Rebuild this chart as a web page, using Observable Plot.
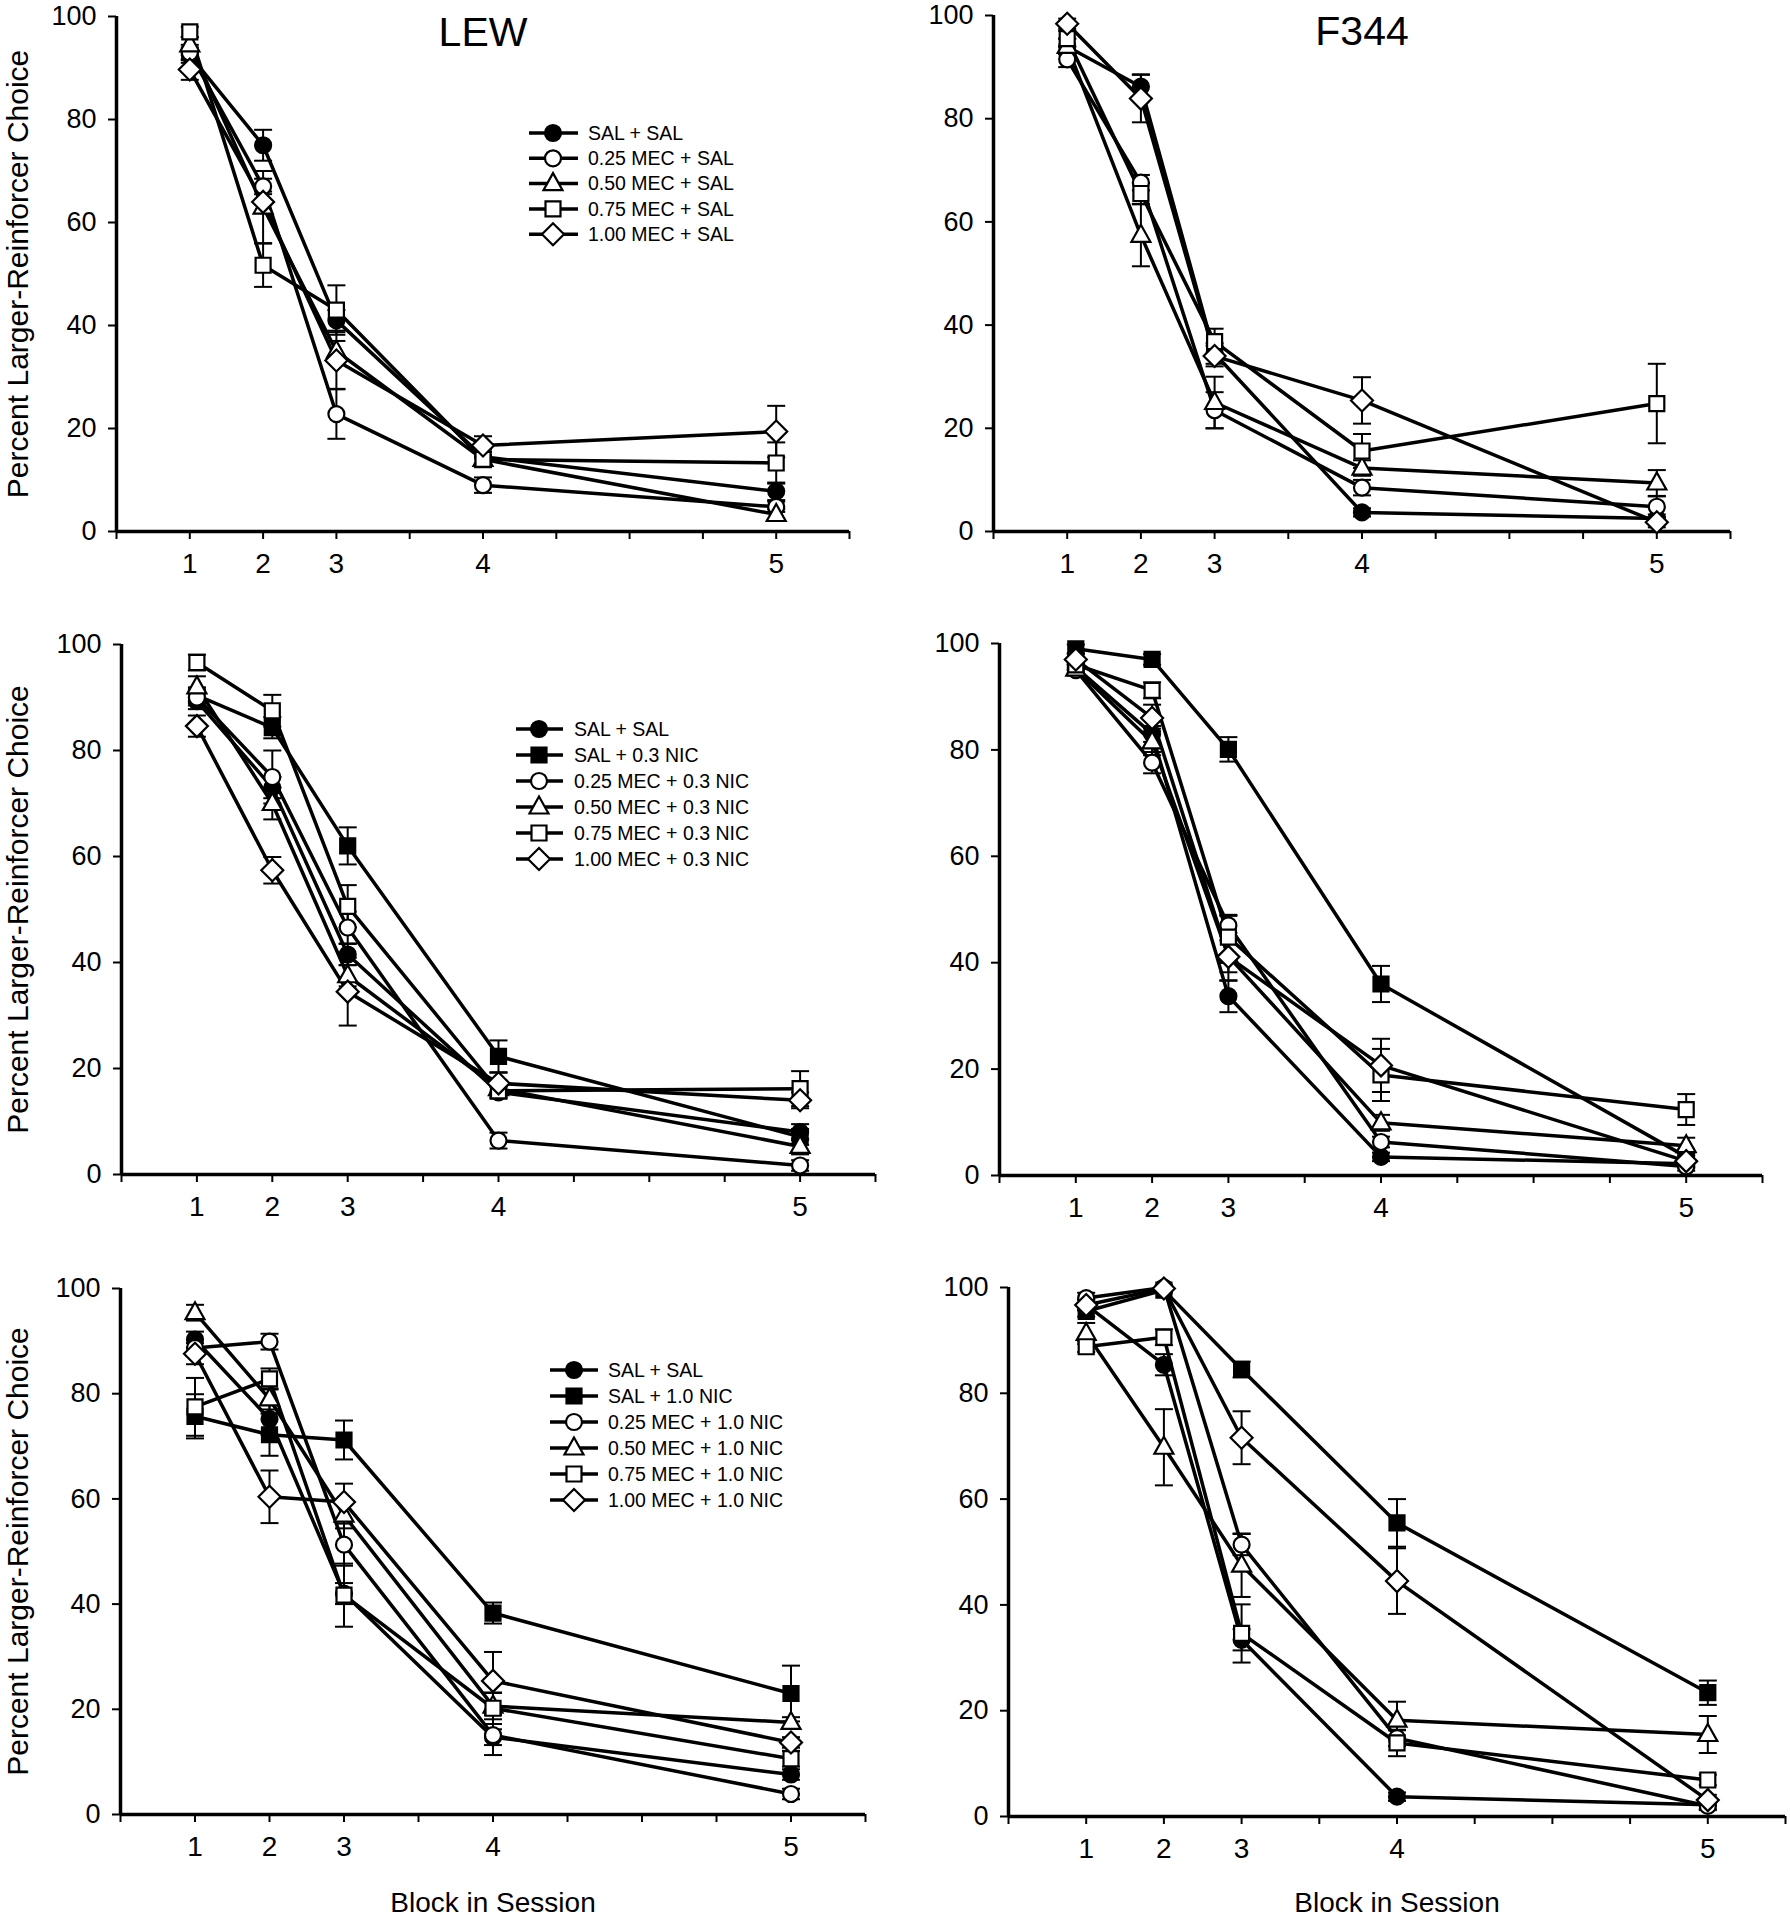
<!DOCTYPE html>
<html>
<head>
<meta charset="utf-8">
<script src="https://cdn.jsdelivr.net/npm/d3@7"></script>
<script src="https://cdn.jsdelivr.net/npm/@observablehq/plot@0.6"></script>
<style>
html, body { margin: 0; padding: 0; background: #fff; }
#fig { position: relative; width: 1790px; height: 1920px; background: #fff; overflow: hidden;
       font-family: "Liberation Sans", Arial, Helvetica, sans-serif; }
#fig > div { position: absolute; }
#fig svg { display: block; max-width: none; }
</style>
</head>
<body>
<div id="fig"></div>
<script>
// ---------------- data ----------------
const blockPos = [1, 2, 3, 5, 9];          // position of each block on the session axis
const blockLabels = ["1", "2", "3", "4", "5"];
const axisTicksX = [0, 1, 2, 3, 4, 5, 6, 7, 8, 9, 10];
const axisTicksY = [0, 20, 40, 60, 80, 100];

const yLabel = "Percent Larger-Reinforcer Choice";
const xLabel = "Block in Session";

const seriesSal = ["SAL + SAL", "0.25 MEC + SAL", "0.50 MEC + SAL", "0.75 MEC + SAL", "1.00 MEC + SAL"];
const seriesNic03 = ["SAL + SAL", "SAL + 0.3 NIC", "0.25 MEC + 0.3 NIC", "0.50 MEC + 0.3 NIC", "0.75 MEC + 0.3 NIC", "1.00 MEC + 0.3 NIC"];
const seriesNic10 = ["SAL + SAL", "SAL + 1.0 NIC", "0.25 MEC + 1.0 NIC", "0.50 MEC + 1.0 NIC", "0.75 MEC + 1.0 NIC", "1.00 MEC + 1.0 NIC"];

// LEW, MEC + SAL
const lewSalMean = [
  [92.5, 75, 41, 14.5, 7.8],
  [93, 67, 22.8, 9, 4.8],
  [94.5, 63, 35, 14, 3.3],
  [97, 51.7, 43, 14, 13.3],
  [89.7, 64, 33.2, 16.7, 19.4]
];
const lewSalErr = [
  [1.5, 3, 2, 1.5, 1.7],
  [1.5, 1.5, 4.8, 1.5, 1],
  [1.5, 7, 2, 1.5, 1],
  [1, 4.2, 4.8, 1.5, 4],
  [2, 2, 5.5, 1.8, 5]
];
// F344, MEC + SAL
const f344SalMean = [
  [94, 86.2, 34.5, 3.7, 2.5],
  [91.5, 67.6, 23.5, 8.5, 4.8],
  [94, 57.4, 25, 12.3, 9.4],
  [95.5, 65.5, 36.8, 15.6, 24.8],
  [98.4, 83.9, 34, 25.4, 1.8]
];
const f344SalErr = [
  [1.5, 2.4, 2, 0.8, 0.8],
  [1.5, 1.5, 3.5, 1.5, 2],
  [1.5, 6, 5, 1.5, 2.5],
  [1.5, 2, 2.5, 3.3, 7.7],
  [1, 4.6, 2, 4.5, 1]
];
// LEW, MEC + 0.3 NIC
const lewNic03Mean = [
  [89.3, 73, 41.5, 15.5, 8],
  [90.4, 84.3, 62, 22.3, 7.1],
  [90, 75, 46.6, 6.4, 1.7],
  [92, 70, 37.5, 16.2, 5.3],
  [96.6, 87.5, 50.6, 15.8, 16.2],
  [84.6, 57.4, 34.5, 17.2, 14]
];
const lewNic03Err = [
  [1.5, 2, 2, 1, 1.5],
  [1.5, 2, 3.5, 3, 1.5],
  [1.5, 5, 3, 1.5, 1],
  [2, 3, 2, 1.5, 1.5],
  [1.5, 3, 4, 1.5, 3.3],
  [2, 2.5, 6.4, 2, 1.5]
];
// F344, MEC + 0.3 NIC
const f344Nic03Mean = [
  [95.5, 83, 33.7, 3.5, 2.2],
  [99, 97, 80.1, 36, 3.5],
  [95, 77.6, 47, 6.3, 1.7],
  [95.2, 81.5, 41.2, 9.9, 5.6],
  [96, 91.2, 44.8, 18.9, 12.4],
  [97, 86, 41.1, 20.7, 2.7]
];
const f344Nic03Err = [
  [1, 1.5, 3, 0.8, 0.8],
  [0.8, 1, 2.3, 3.4, 1],
  [1, 2, 2, 1, 0.8],
  [1, 2.5, 3, 1.5, 1.5],
  [1, 1.5, 4, 4.9, 2.9],
  [1, 2.5, 4.5, 5, 1]
];
// LEW, MEC + 1.0 NIC
const lewNic10Mean = [
  [90.3, 75.2, 42, 14.7, 7.6],
  [75.7, 72.2, 71.2, 38.3, 23],
  [88.7, 89.9, 51.3, 15.1, 3.9],
  [95.4, 79, 56.9, 20.6, 17.5],
  [77.5, 82.8, 41.7, 20.2, 10.6],
  [87.6, 60.4, 59.4, 25.4, 13.7]
];
const lewNic10Err = [
  [1.5, 3, 2, 1.5, 1],
  [4.2, 4, 3.7, 2, 5.3],
  [1.5, 1.5, 4, 3.8, 1],
  [1.5, 2, 2.5, 2.5, 1],
  [5.5, 2, 6, 3, 1.5],
  [2, 5, 3.5, 5.5, 1]
];
// F344, MEC + 1.0 NIC
const f344Nic10Mean = [
  [96.7, 85.4, 33.4, 3.75, 2.2],
  [95.5, 99.5, 84.5, 55.5, 23.4],
  [98, 100, 51.4, 14.8, 2],
  [91.3, 69.8, 47.5, 18.2, 15.5],
  [88.8, 90.6, 34.6, 13.9, 6.9],
  [96.7, 99.8, 71.6, 44.5, 3.1]
];
const f344Nic10Err = [
  [1, 2, 2, 0.8, 0.8],
  [1, 0.5, 1.5, 4.5, 2.3],
  [1, 0.5, 2, 1.5, 0.8],
  [2, 7.2, 6, 3.5, 3.5],
  [1, 1.5, 5.5, 2.5, 1],
  [1, 0.5, 5, 6.2, 1]
];

// ---------------- symbols & styles ----------------
const symCircle = {draw(c) { c.moveTo(8, 0); c.arc(0, 0, 8, 0, 2 * Math.PI); c.closePath(); }};
const symSquare = {draw(c) { c.moveTo(-7.5, -7.5); c.lineTo(7.5, -7.5); c.lineTo(7.5, 7.5); c.lineTo(-7.5, 7.5); c.closePath(); }};
const symTriangle = {draw(c) { c.moveTo(0, -10.5); c.lineTo(9.5, 6.5); c.lineTo(-9.5, 6.5); c.closePath(); }};
const symDiamond = {draw(c) { c.moveTo(0, -11); c.lineTo(11, 0); c.lineTo(0, 11); c.lineTo(-11, 0); c.closePath(); }};
const symCap = {draw(c) { c.moveTo(-9, 0); c.lineTo(9, 0); }};

function styleOf(name) {
  if (name === "SAL + SAL") return {sym: symCircle, fill: "black"};
  if (name.startsWith("SAL +")) return {sym: symSquare, fill: "black"};
  if (name.startsWith("0.25")) return {sym: symCircle, fill: "white"};
  if (name.startsWith("0.50")) return {sym: symTriangle, fill: "white"};
  if (name.startsWith("0.75")) return {sym: symSquare, fill: "white"};
  return {sym: symDiamond, fill: "white"};
}

const FONT = '"Liberation Sans", Arial, Helvetica, sans-serif';
const labelOf = new Map(blockPos.map((p, i) => [p, blockLabels[i]]));

function rowsOf(names, means, errs) {
  const rows = [];
  names.forEach((s, j) => means[j].forEach((v, i) =>
    rows.push({series: s, block: blockPos[i], value: v, err: errs[j][i]})));
  return rows;
}

function makePanel(cfg) {
  const rows = rowsOf(cfg.names, cfg.means, cfg.errs);
  const marks = [
    Plot.axisX({ticks: axisTicksX, tickFormat: d => labelOf.get(d) ?? "", tickSize: 8, tickPadding: 14,
                fontSize: 28, strokeWidth: 2, label: null}),
    Plot.axisY({ticks: axisTicksY, tickSize: 8, tickPadding: 12, fontSize: 27, strokeWidth: 2, label: null}),
    Plot.ruleY([0], {stroke: "black", strokeWidth: 3.5}),
    Plot.ruleX([0], {stroke: "black", strokeWidth: 3.5}),
    Plot.line(rows, {x: "block", y: "value", z: "series", stroke: "black", strokeWidth: 3.5}),
    Plot.ruleX(rows, {x: "block", y1: d => d.value - d.err, y2: d => d.value + d.err, stroke: "black", strokeWidth: 2}),
    Plot.dot(rows, {x: "block", y: d => d.value - d.err, symbol: symCap, r: 5, fill: "none", stroke: "black", strokeWidth: 2}),
    Plot.dot(rows, {x: "block", y: d => d.value + d.err, symbol: symCap, r: 5, fill: "none", stroke: "black", strokeWidth: 2})
  ];
  for (const s of cfg.names) {
    const st = styleOf(s);
    marks.push(Plot.dot(rows.filter(d => d.series === s),
      {x: "block", y: "value", symbol: st.sym, r: 8, fill: st.fill, stroke: "black", strokeWidth: 2.2}));
  }
  if (cfg.title) marks.push(Plot.text([cfg.title], {text: d => d, frameAnchor: "top", lineAnchor: "top", fontSize: 41, fill: "black"}));
  if (cfg.ylabel) marks.push(Plot.text([cfg.ylabel], {text: d => d, frameAnchor: "left", textAnchor: "middle", rotate: -90,
                                                      lineAnchor: "top", dx: -(cfg.mL - 6), fontSize: 30, fill: "black"}));
  if (cfg.xlabel) marks.push(Plot.text([cfg.xlabel], {text: d => d, frameAnchor: "bottom", textAnchor: "middle", lineAnchor: "bottom",
                                                      dy: cfg.mB - 9, fontSize: 28, fill: "black"}));
  const W = cfg.mL + cfg.w + cfg.mR, H = cfg.mT + cfg.h + cfg.mB;
  const svg = Plot.plot({
    width: W, height: H,
    marginLeft: cfg.mL, marginTop: cfg.mT, marginRight: cfg.mR, marginBottom: cfg.mB,
    x: {domain: [0, 10]},
    y: {domain: [0, 100]},
    style: {fontFamily: FONT, color: "black", background: "transparent", overflow: "visible", maxWidth: "none"},
    marks
  });
  const holder = document.createElement("div");
  holder.style.left = cfg.left + "px";
  holder.style.top = cfg.top + "px";
  holder.style.width = W + "px";
  holder.style.height = H + "px";
  holder.appendChild(svg);
  document.getElementById("fig").appendChild(holder);
}

makePanel({names: seriesSal, means: lewSalMean, errs: lewSalErr, title: "LEW", ylabel: yLabel,
           left: 0, top: 0, mL: 116, mT: 16, mR: 10, mB: 50, w: 733, h: 515});
makePanel({names: seriesSal, means: f344SalMean, errs: f344SalErr, title: "F344",
           left: 893, top: 0, mL: 100, mT: 15, mR: 15, mB: 50, w: 737, h: 516});
makePanel({names: seriesNic03, means: lewNic03Mean, errs: lewNic03Err, ylabel: yLabel,
           left: 0, top: 624, mL: 121, mT: 20, mR: 10, mB: 50, w: 754, h: 530});
makePanel({names: seriesNic03, means: f344Nic03Mean, errs: f344Nic03Err,
           left: 899, top: 623, mL: 100, mT: 20, mR: 15, mB: 50, w: 763, h: 532});
makePanel({names: seriesNic10, means: lewNic10Mean, errs: lewNic10Err, ylabel: yLabel, xlabel: xLabel,
           left: 0, top: 1268, mL: 120, mT: 20, mR: 10, mB: 106, w: 745, h: 526});
makePanel({names: seriesNic10, means: f344Nic10Mean, errs: f344Nic10Err, xlabel: xLabel,
           left: 908, top: 1267, mL: 100, mT: 20, mR: 5, mB: 104, w: 777, h: 529});

// ---------------- legends (overlay) ----------------
const legendSpecs = [
  {names: seriesSal,   x1: 529, x2: 578, mx: 553, tx: 588, y0: 133,  step: 25.3},
  {names: seriesNic03, x1: 516, x2: 563, mx: 539, tx: 574, y0: 729,  step: 26},
  {names: seriesNic10, x1: 550, x2: 598, mx: 574, tx: 608, y0: 1370, step: 26}
];
const overlayDiv = document.createElement("div");
overlayDiv.style.left = "0px"; overlayDiv.style.top = "0px";
overlayDiv.style.width = "1790px"; overlayDiv.style.height = "1920px";
overlayDiv.style.pointerEvents = "none";
document.getElementById("fig").appendChild(overlayDiv);
const ov = d3.select(overlayDiv).append("svg").attr("width", 1790).attr("height", 1920)
  .style("font-family", FONT);
for (const L of legendSpecs) {
  L.names.forEach((s, i) => {
    const y = L.y0 + i * L.step;
    const st = styleOf(s);
    const g = ov.append("g");
    g.append("line").attr("x1", L.x1).attr("x2", L.x2).attr("y1", y).attr("y2", y)
      .attr("stroke", "black").attr("stroke-width", 3.5);
    g.append("path").attr("d", d3.symbol().type(st.sym)()).attr("transform", `translate(${L.mx},${y})`)
      .attr("fill", st.fill).attr("stroke", "black").attr("stroke-width", 2.2);
    g.append("text").attr("x", L.tx).attr("y", y).attr("dy", "0.35em").attr("font-size", 19.5)
      .attr("fill", "black").text(s);
  });
}
</script>
</body>
</html>
